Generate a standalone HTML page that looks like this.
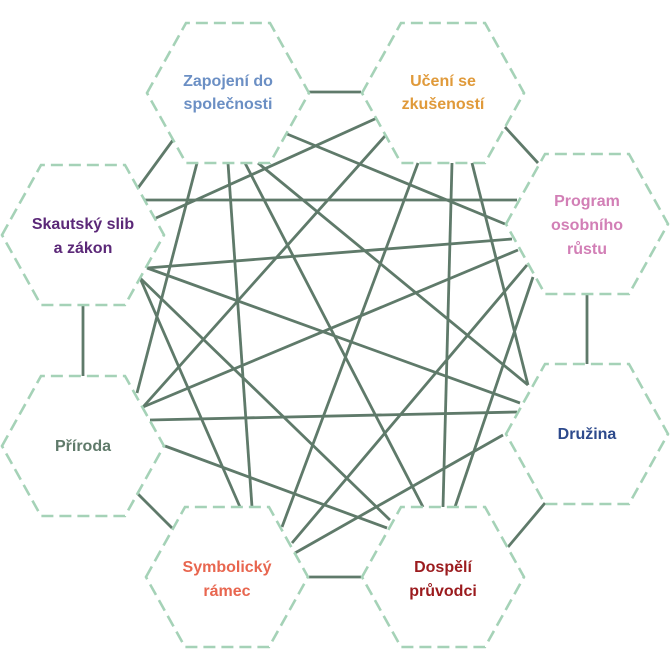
<!DOCTYPE html>
<html><head><meta charset="utf-8"><style>
html,body{margin:0;padding:0;background:#fff;}
svg{display:block;}
text{font-family:"Liberation Sans","DejaVu Sans",sans-serif;font-weight:bold;font-size:16px;text-anchor:middle;}
</style></head><body>
<svg width="670" height="670" viewBox="0 0 670 670" xmlns="http://www.w3.org/2000/svg">
<g stroke="#5f7a6a" stroke-width="2.8" fill="none" stroke-linecap="butt">
<line x1="308" y1="92" x2="361" y2="92"/>
<line x1="505" y1="127" x2="538" y2="163"/>
<line x1="587" y1="293" x2="587" y2="364"/>
<line x1="545" y1="503" x2="508" y2="547"/>
<line x1="309" y1="577" x2="361" y2="577"/>
<line x1="137" y1="493" x2="172" y2="528"/>
<line x1="83" y1="305" x2="83" y2="376"/>
<line x1="138" y1="188" x2="173" y2="140"/>
<line x1="197" y1="163" x2="137" y2="393"/>
<line x1="228" y1="163" x2="252" y2="507"/>
<line x1="245" y1="163" x2="423" y2="507"/>
<line x1="258" y1="163" x2="528" y2="385"/>
<line x1="287" y1="134" x2="505" y2="224"/>
<line x1="377" y1="118" x2="156" y2="218"/>
<line x1="385" y1="136" x2="143" y2="407"/>
<line x1="418" y1="163" x2="282" y2="527"/>
<line x1="452" y1="163" x2="443" y2="507"/>
<line x1="472" y1="163" x2="528" y2="385"/>
<line x1="145" y1="200" x2="517" y2="200"/>
<line x1="147" y1="268" x2="512" y2="239"/>
<line x1="147" y1="268" x2="520" y2="403"/>
<line x1="140" y1="278" x2="240" y2="507"/>
<line x1="140" y1="278" x2="390" y2="520"/>
<line x1="143" y1="407" x2="518" y2="250"/>
<line x1="150" y1="420" x2="517" y2="412"/>
<line x1="165" y1="446" x2="387" y2="528"/>
<line x1="292" y1="543" x2="527" y2="265"/>
<line x1="295" y1="553" x2="503" y2="435"/>
<line x1="455" y1="507" x2="533" y2="277"/>
</g>
<g stroke="#a5d2b7" stroke-width="2.6" fill="none" stroke-dasharray="12,6">
<polygon points="147,93 186,23 270,23 309,93 270,163 186,163"/>
<polygon points="362,93 401,23 485,23 524,93 485,163 401,163"/>
<polygon points="506,224 545,154 629,154 668,224 629,294 545,294"/>
<polygon points="506,434 545,364 629,364 668,434 629,504 545,504"/>
<polygon points="362,577 401,507 485,507 524,577 485,647 401,647"/>
<polygon points="146,577 185,507 269,507 308,577 269,647 185,647"/>
<polygon points="2,446 41,376 125,376 164,446 125,516 41,516"/>
<polygon points="2,235 41,165 125,165 164,235 125,305 41,305"/>
</g>
<text x="228" y="86" fill="#6b8fc4">Zapojení do</text>
<text x="228" y="109" fill="#6b8fc4">společnosti</text>
<text x="443" y="86" fill="#e09a3a">Učení se</text>
<text x="443" y="109" fill="#e09a3a">zkušeností</text>
<text x="587" y="206" fill="#d27fb6">Program</text>
<text x="587" y="230" fill="#d27fb6">osobního</text>
<text x="587" y="254" fill="#d27fb6">růstu</text>
<text x="587" y="439" fill="#2d4a8c">Družina</text>
<text x="443" y="572" fill="#9b1b1e">Dospělí</text>
<text x="443" y="596" fill="#9b1b1e">průvodci</text>
<text x="227" y="572" fill="#e8664f">Symbolický</text>
<text x="227" y="596" fill="#e8664f">rámec</text>
<text x="83" y="451" fill="#5f7a6a">Příroda</text>
<text x="83" y="229" fill="#5b2878">Skautský slib</text>
<text x="83" y="253" fill="#5b2878">a zákon</text>
</svg>
</body></html>
